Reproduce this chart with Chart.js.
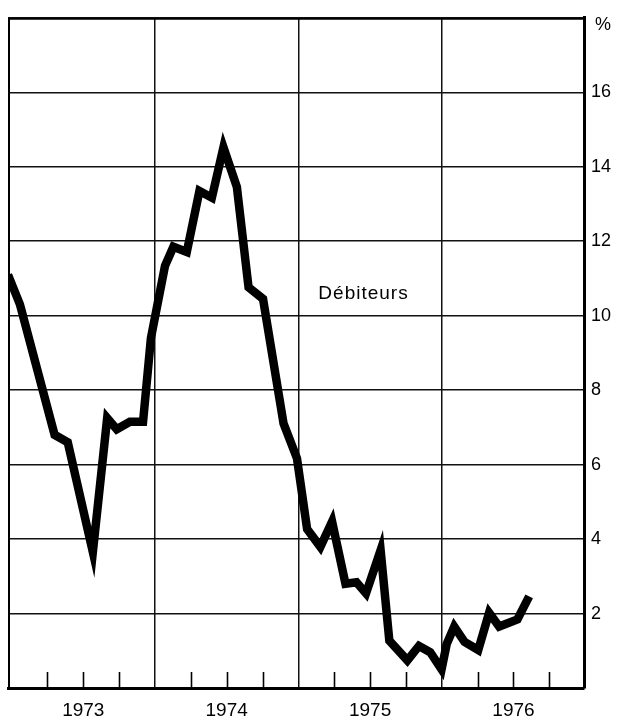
<!DOCTYPE html>
<html>
<head>
<meta charset="utf-8">
<script src="https://cdn.jsdelivr.net/npm/chart.js@4"></script>
<style>
    html, body { margin: 0; padding: 0; background: #fff; }
    #wrap { width: 626px; height: 723px; position: relative; }
</style>
</head>
<body>
<div id="wrap"><canvas id="chart"></canvas></div>
<script>
// months counted from January 1973
const months = [
    -0.3, 0.7, 3.6, 4.7, 6.8, 8.0, 8.8, 9.9, 11.0, 11.66,
    12.84, 13.54, 14.66, 15.72, 16.76, 17.73, 18.85, 19.83, 21.04,
    22.76, 23.88, 24.73, 25.84, 26.82, 27.94, 28.86, 29.66, 30.88,
    31.61, 33.12, 34.09, 35.03, 35.98, 36.41, 37.04, 37.9, 39.05,
    39.96, 40.8, 42.33, 43.31
];
const debiteurs = [
    11.1, 10.3, 6.8, 6.6, 3.65, 7.25, 6.95, 7.15, 7.15, 9.4,
    11.34, 11.85, 11.71, 13.35, 13.17, 14.52, 13.46, 10.76, 10.45,
    7.1, 6.17, 4.27, 3.79, 4.47, 2.8, 2.84, 2.54, 3.7,
    1.27, 0.74, 1.13, 0.96, 0.5, 1.18, 1.65, 1.24, 1.02,
    2.02, 1.65, 1.84, 2.46
];
const yearLabels = ['1973', '1974', '1975', '1976'];
const quarterTicks = [3, 6, 9, 12, 15, 18, 21, 24, 27, 30, 33, 36, 39, 42, 45];
const seriesLabel = 'Débiteurs';
const unitLabel = '%';

const ink = '#000';
const fontFamily = "'Liberation Sans', Arial, sans-serif";

// frame, quarter ticks and the two text labels
const decorations = {
    id: 'decorations',
    afterDraw(chart) {
        const { ctx, chartArea, scales } = chart;
        const x = scales.x, y = scales.y;
        ctx.save();
        ctx.strokeStyle = ink;

        // left and top edges of the frame
        ctx.lineWidth = 2;
        ctx.beginPath();
        ctx.moveTo(chartArea.left + 1, chartArea.bottom);
        ctx.lineTo(chartArea.left + 1, chartArea.top + 1);
        ctx.lineTo(chartArea.right, chartArea.top + 1);
        ctx.stroke();

        // short quarter ticks rising from the bottom axis
        ctx.lineWidth = 1.6;
        quarterTicks.forEach(v => {
            if (v % 12 === 0) return;
            const px = Math.round(x.getPixelForValue(v)) + 0.5;
            ctx.beginPath();
            ctx.moveTo(px, chartArea.bottom);
            ctx.lineTo(px, chartArea.bottom - 16);
            ctx.stroke();
        });

        ctx.fillStyle = ink;
        ctx.font = '18px ' + fontFamily;
        ctx.textAlign = 'left';
        ctx.textBaseline = 'middle';
        ctx.fillText(unitLabel, chartArea.right + 11, y.getPixelForValue(17.8));

        ctx.font = '19px ' + fontFamily;
        if ('letterSpacing' in ctx) ctx.letterSpacing = '1px';
        ctx.textAlign = 'center';
        ctx.fillText(seriesLabel, x.getPixelForValue(29.45), y.getPixelForValue(10.58));
        ctx.restore();
    }
};

new Chart(document.getElementById('chart'), {
    type: 'line',
    data: {
        datasets: [{
            label: seriesLabel,
            data: months.map((m, i) => ({ x: m, y: debiteurs[i] })),
            borderColor: '#000',
            borderWidth: 8.5,
            borderJoinStyle: 'miter',
            borderCapStyle: 'butt',
            pointRadius: 0,
            tension: 0,
            fill: false,
            clip: 0
        }]
    },
    options: {
        responsive: true,
        maintainAspectRatio: false,
        animation: false,
        layout: { padding: { left: 8, top: 8, right: 0, bottom: 0 } },
        plugins: {
            legend: { display: false },
            tooltip: { enabled: false },
            title: { display: false }
        },
        scales: {
            x: {
                type: 'linear',
                min: -0.3,
                max: 47.9,
                afterBuildTicks(scale) {
                    scale.ticks = quarterTicks.map(v => ({ value: v }));
                },
                afterFit(scale) { scale.height = 35; },
                grid: {
                    color: c => (c.tick && c.tick.value % 12 === 0) ? '#111' : 'rgba(0,0,0,0)',
                    lineWidth: 1.5,
                    drawTicks: false
                },
                border: { color: '#000', width: 3 },
                ticks: {
                    autoSkip: false,
                    maxRotation: 0,
                    padding: 11,
                    color: ink,
                    font: { family: fontFamily, size: 19 },
                    callback: v => (v % 12 === 6) ? yearLabels[(v - 6) / 12] : ''
                }
            },
            y: {
                position: 'right',
                min: 0,
                max: 18,
                afterFit(scale) { scale.width = 42; },
                grid: {
                    color: '#111',
                    lineWidth: c => (c.tick && c.tick.value === 18) ? 2 : 1.5,
                    drawTicks: false
                },
                border: { color: '#000', width: 3 },
                ticks: {
                    stepSize: 2,
                    padding: 7,
                    color: ink,
                    font: { family: fontFamily, size: 18 },
                    callback: v => (v > 0 && v < 18) ? String(v) : ''
                }
            }
        }
    },
    plugins: [decorations]
});
</script>
</body>
</html>
